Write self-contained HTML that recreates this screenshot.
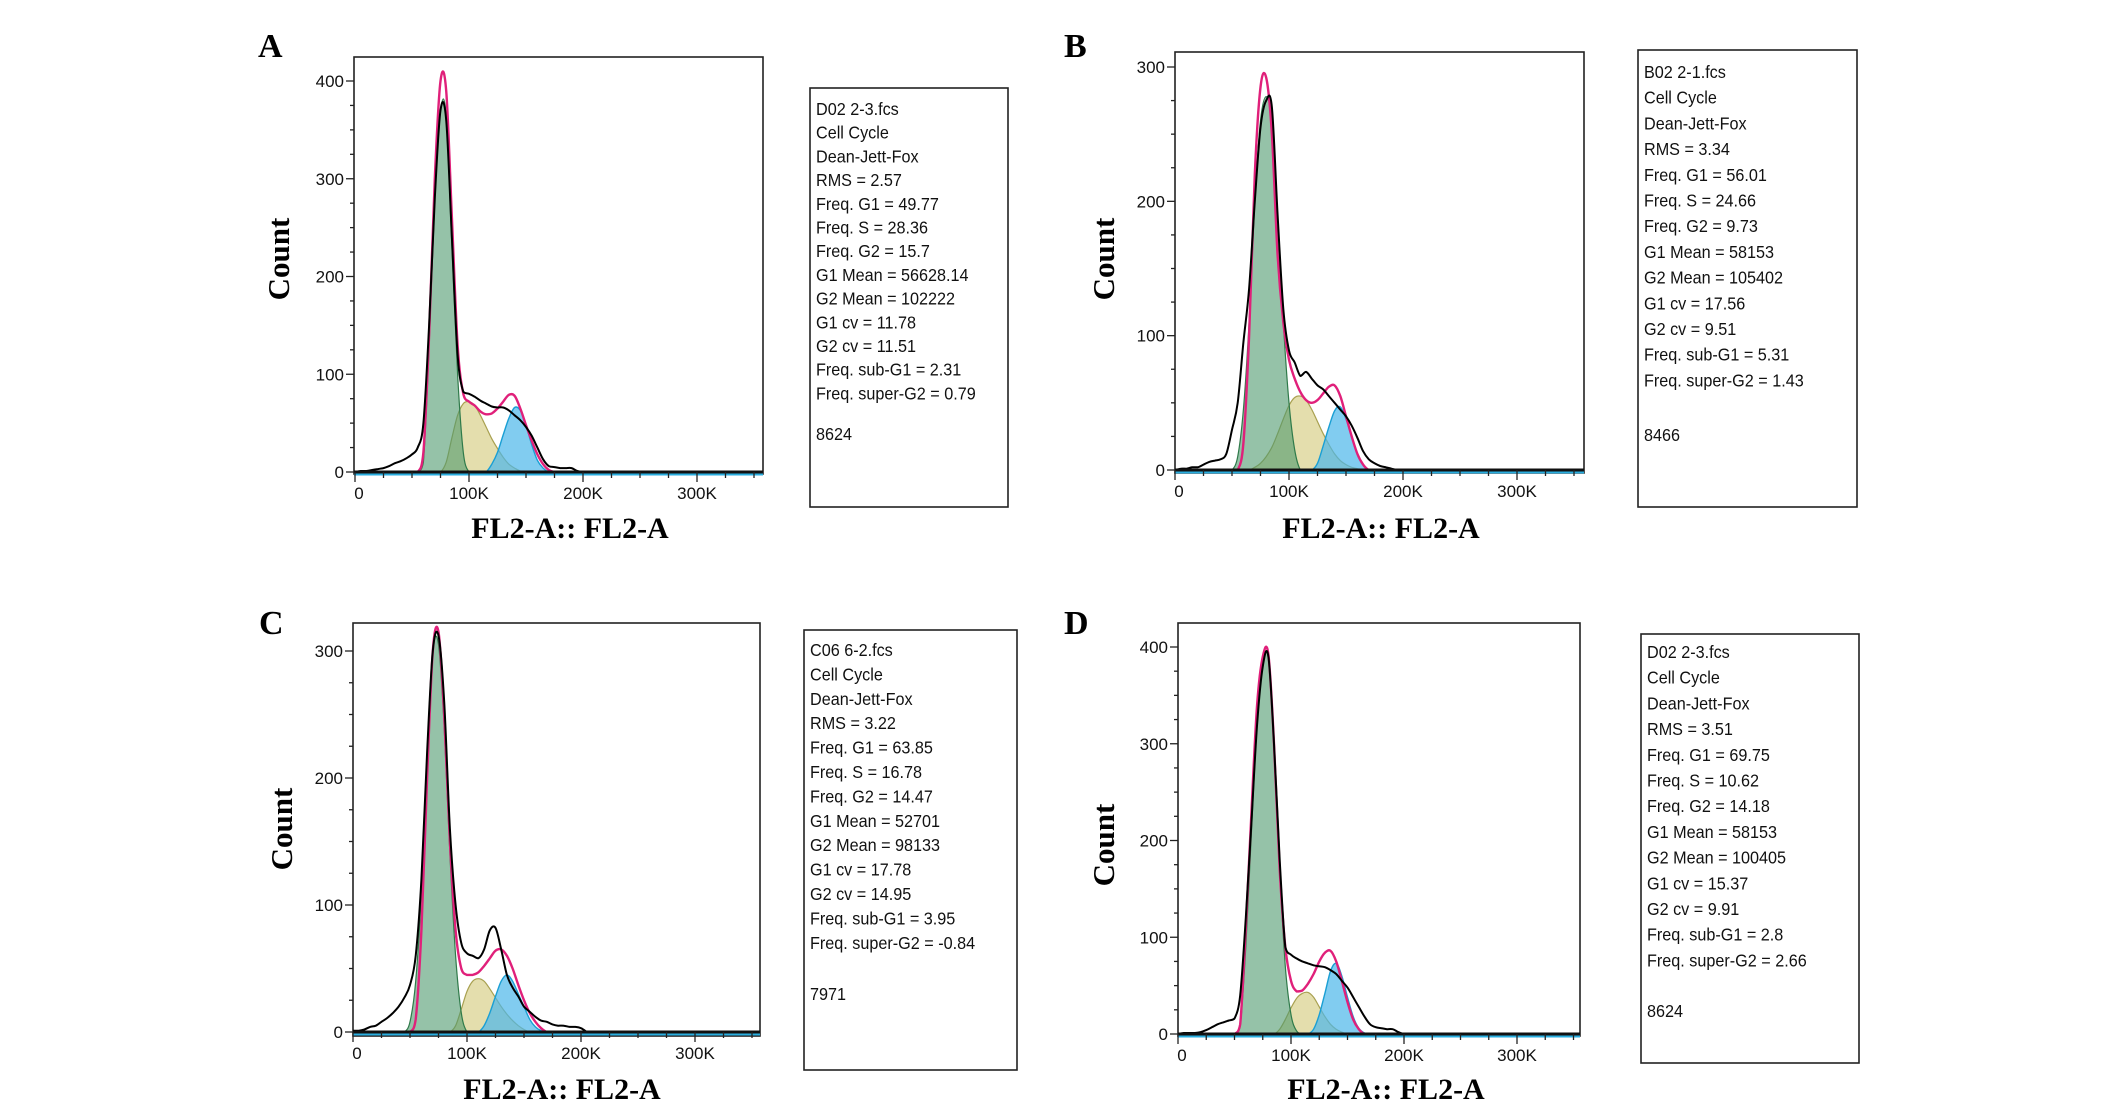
<!DOCTYPE html>
<html><head><meta charset="utf-8">
<style>
html,body{margin:0;padding:0;background:#fff;}
svg{display:block;}
.lab{font-family:"Liberation Serif",serif;font-weight:bold;}
.tk{font-family:"Liberation Sans",sans-serif;font-size:17px;fill:#111;}
.info{font-family:"Liberation Sans",sans-serif;font-size:18px;fill:#111;}
</style></head>
<body>
<svg id="fig" width="2126" height="1107" viewBox="0 0 2126 1107" xmlns="http://www.w3.org/2000/svg"></svg>
<script>
// ---- data (counts sampled every 5K on FL2-A axis) ----
const binsK = [0,5,10,15,20,25,30,35,40,45,50,55,60,65,70,75,80,85,90,95,100,105,110,115,120,125,130,135,140,145,150,155,160,165,170,175,180,185,190,195,200,205];
const panelNames = ["A","B","C","D"];
const yTickValsA = [0,100,200,300,400];
const yTickValsB = [0,100,200,300];
const yTickValsC = [0,100,200,300];
const yTickValsD = [0,100,200,300,400];
const xTickVals = [0,100,200,300];
const xTickLabels = ["0","100K","200K","300K"];

const histA  = [0,1,1,2,3,4,6,9,11,14,18,25,50,150,280,370,360,240,120,82,80,77,73,70,67,66,66,63,58,53,46,37,25,13,6,5,4,4,4,1,0,0];
const fitA   = [0,0,0,0,0,0,0,0,0,0,0,0,20,140,300,400,390,260,130,80,72,68,62,59,60,65,72,79,78,65,48,32,18,8,2,0,0,0,0,0,0,0];
const g1A    = [0,0,0,0,0,0,0,0,0,0,0,0,10,130,280,370,365,230,100,20,0,0,0,0,0,0,0,0,0,0,0,0,0,0,0,0,0,0,0,0,0,0];
const sA     = [0,0,0,0,0,0,0,0,0,0,0,0,0,0,0,0,10,35,58,70,72,68,58,46,34,24,15,8,4,1,0,0,0,0,0,0,0,0,0,0,0,0];
const g2A    = [0,0,0,0,0,0,0,0,0,0,0,0,0,0,0,0,0,0,0,0,0,0,0,0,8,20,38,55,66,63,48,28,12,4,0,0,0,0,0,0,0,0];

const histB  = [0,1,1,2,2,4,6,7,8,12,30,50,95,135,200,255,275,270,190,120,89,80,70,73,68,63,60,55,50,45,40,33,24,14,8,5,3,2,1,0,0,0];
const fitB   = [0,0,0,0,0,0,0,0,0,0,0,0,20,100,220,285,292,250,160,110,82,68,58,52,50,52,57,62,63,55,40,25,12,4,0,0,0,0,0,0,0,0];
const g1B    = [0,0,0,0,0,0,0,0,0,0,0,10,45,110,200,260,278,260,190,110,50,15,0,0,0,0,0,0,0,0,0,0,0,0,0,0,0,0,0,0,0,0];
const sB     = [0,0,0,0,0,0,0,0,0,0,0,0,0,0,2,5,10,17,27,38,48,54,55,52,45,36,27,19,12,7,4,2,1,0,0,0,0,0,0,0,0,0];
const g2B    = [0,0,0,0,0,0,0,0,0,0,0,0,0,0,0,0,0,0,0,0,0,0,0,0,0,5,18,32,44,47,38,25,12,4,0,0,0,0,0,0,0,0];

const histC  = [1,1,2,4,5,8,11,15,20,27,37,60,120,220,300,312,260,160,100,70,62,60,58,65,80,82,65,45,35,28,20,16,12,9,8,6,5,5,4,4,3,0];
const fitC   = [0,0,0,0,0,0,0,0,0,0,0,10,80,200,300,315,250,150,80,50,45,45,47,52,58,64,65,60,50,37,25,15,8,3,0,0,0,0,0,0,0,0];
const g1C    = [0,0,0,0,0,0,0,0,0,0,8,40,110,220,300,305,240,140,60,15,0,0,0,0,0,0,0,0,0,0,0,0,0,0,0,0,0,0,0,0,0,0];
const sC     = [0,0,0,0,0,0,0,0,0,0,0,0,0,0,0,0,0,0,5,18,32,40,42,40,34,27,20,14,9,5,2,0,0,0,0,0,0,0,0,0,0,0];
const g2C    = [0,0,0,0,0,0,0,0,0,0,0,0,0,0,0,0,0,0,0,0,0,0,0,5,15,28,40,45,40,30,20,10,4,1,0,0,0,0,0,0,0,0];

const histD  = [0,1,1,1,2,4,7,10,12,14,16,40,120,220,320,380,390,300,180,90,82,78,75,73,71,70,69,66,62,55,48,38,28,18,10,7,6,5,5,2,0,0];
const fitD   = [0,0,0,0,0,0,0,0,0,0,0,10,110,230,340,390,392,300,170,90,55,44,45,52,62,75,84,86,75,55,33,15,5,0,0,0,0,0,0,0,0,0];
const g1D    = [0,0,0,0,0,0,0,0,0,0,0,8,90,210,320,380,390,300,170,70,20,3,0,0,0,0,0,0,0,0,0,0,0,0,0,0,0,0,0,0,0,0];
const sD     = [0,0,0,0,0,0,0,0,0,0,0,0,0,0,0,0,0,0,5,15,27,37,42,43,38,28,18,10,5,2,0,0,0,0,0,0,0,0,0,0,0,0];
const g2D    = [0,0,0,0,0,0,0,0,0,0,0,0,0,0,0,0,0,0,0,0,0,0,0,0,5,20,42,65,73,60,38,18,6,1,0,0,0,0,0,0,0,0];

const infoA = ["D02 2-3.fcs","Cell Cycle","Dean-Jett-Fox","RMS  = 2.57","Freq. G1  = 49.77","Freq. S = 28.36","Freq. G2  = 15.7","G1 Mean  = 56628.14","G2 Mean  = 102222","G1 cv  = 11.78","G2 cv = 11.51","Freq. sub-G1  = 2.31","Freq. super-G2 = 0.79","8624"];
const infoB = ["B02 2-1.fcs","Cell Cycle","Dean-Jett-Fox","RMS  = 3.34","Freq. G1  = 56.01","Freq. S = 24.66","Freq. G2  = 9.73","G1 Mean  = 58153","G2 Mean  = 105402","G1 cv  = 17.56","G2 cv = 9.51","Freq. sub-G1  = 5.31","Freq. super-G2 = 1.43","8466"];
const infoC = ["C06 6-2.fcs","Cell Cycle","Dean-Jett-Fox","RMS  = 3.22","Freq. G1  = 63.85","Freq. S = 16.78","Freq. G2  = 14.47","G1 Mean  = 52701","G2 Mean  = 98133","G1 cv  = 17.78","G2 cv = 14.95","Freq. sub-G1  = 3.95","Freq. super-G2 = -0.84","7971"];
const infoD = ["D02 2-3.fcs","Cell Cycle","Dean-Jett-Fox","RMS  = 3.51","Freq. G1  = 69.75","Freq. S = 10.62","Freq. G2  = 14.18","G1 Mean  = 58153","G2 Mean  = 100405","G1 cv  = 15.37","G2 cv = 9.91","Freq. sub-G1  = 2.8","Freq. super-G2 = 2.66","8624"];

// ---- layout ----
const layouts = [
 {name:"A", box:[354,57,763,474], x0:355, y0:472, pxK:1.14, yMax:400, yTopPx:81, yt:yTickValsA, minor:25,
  hist:histA, fit:fitA, g1:g1A, s:sA, g2:g2A, info:infoA, ib:[810,88,1008,507], tx:816, ty0:115, dy:23.7, lastY:440,
  letter:[258,57], count:[279,259], xt:[570,538]},
 {name:"B", box:[1175,52,1584,473], x0:1175, y0:470, pxK:1.14, yMax:300, yTopPx:67, yt:yTickValsB, minor:25,
  hist:histB, fit:fitB, g1:g1B, s:sB, g2:g2B, info:infoB, ib:[1638,50,1857,507], tx:1644, ty0:78, dy:25.7, lastY:441,
  letter:[1064,57], count:[1104,259], xt:[1381,538]},
 {name:"C", box:[353,623,760,1036], x0:353, y0:1032, pxK:1.14, yMax:300, yTopPx:651, yt:yTickValsC, minor:25,
  hist:histC, fit:fitC, g1:g1C, s:sC, g2:g2C, info:infoC, ib:[804,630,1017,1070], tx:810, ty0:656, dy:24.4, lastY:1000,
  letter:[259,634], count:[282,829], xt:[562,1099]},
 {name:"D", box:[1178,623,1580,1036], x0:1178, y0:1034, pxK:1.13, yMax:400, yTopPx:647, yt:yTickValsD, minor:25,
  hist:histD, fit:fitD, g1:g1D, s:sD, g2:g2D, info:infoD, ib:[1641,634,1859,1063], tx:1647, ty0:658, dy:25.7, lastY:1017,
  letter:[1064,634], count:[1104,845], xt:[1386,1099]}
];

const NS="http://www.w3.org/2000/svg";
const svg=document.getElementById('fig');
function mk(tag,attrs,parent){const e=document.createElementNS(NS,tag);for(const k in attrs)e.setAttribute(k,attrs[k]);(parent||svg).appendChild(e);return e;}

function smoothPath(pts){
  let d="M"+pts[0][0].toFixed(1)+","+pts[0][1].toFixed(1);
  for(let i=0;i<pts.length-1;i++){
    const p0=pts[i-1]||pts[i],p1=pts[i],p2=pts[i+1],p3=pts[i+2]||p2;
    const ymax=Math.max(p1[1],p2[1]);
    const c1y=Math.min(p1[1]+(p2[1]-p0[1])/6, ymax);
    const c2y=Math.min(p2[1]-(p3[1]-p1[1])/6, ymax);
    d+=" C"+(p1[0]+(p2[0]-p0[0])/6).toFixed(1)+","+c1y.toFixed(1)+" "+(p2[0]-(p3[0]-p1[0])/6).toFixed(1)+","+c2y.toFixed(1)+" "+p2[0].toFixed(1)+","+p2[1].toFixed(1);
  }
  return d;
}

layouts.forEach(L=>{
  const g=mk('g',{});
  
  
  const pxC=(L.y0-L.yTopPx)/L.yMax;
  const X=k=>L.x0+k*L.pxK;
  const Y=c=>L.y0-c*pxC;
  const [bx1,by1,bx2,by2]=L.box;

  const lt=mk('text',{x:L.letter[0],y:L.letter[1],class:'lab','font-size':34,'text-anchor':'start'},g);
  lt.textContent=L.name;
  
  

  const fr=mk('rect',{x:bx1,y:by1,width:bx2-bx1,height:by2-by1,fill:'#fff',stroke:'#222','stroke-width':1.6},g);
  
  

  function series(arr,name,fill,stroke,op,sw,closed){
    const pts=binsK.map((k,i)=>[X(k),Y(arr[i])]);
    let d=smoothPath(pts);
    if(closed) d+=" L"+X(binsK[binsK.length-1])+","+L.y0+" L"+X(binsK[0])+","+L.y0+" Z";
    const p=mk('path',{d:d,fill:fill,'fill-opacity':op,stroke:stroke,'stroke-width':sw,'stroke-linejoin':'round'},g);
    
    
  }
  series(L.s,'s-phase-fit','#d8d08a','#a8a050',0.7,1.2,true);
  series(L.g1,'g1-peak-fit','#4f9a6e','#2f7a4a',0.6,1.2,true);
  series(L.g2,'g2-peak-fit','#4cb6ea','#1a9fd4',0.7,1.4,true);
  series(L.fit,'model-fit-line','none','#e0207a',1,2.4,false);
  series(L.hist,'histogram-line','none','#000',1,2,false);

  const bl=mk('line',{x1:bx1,y1:L.y0,x2:bx2,y2:L.y0,stroke:'#111','stroke-width':3},g);
  
  
  const cy=mk('line',{x1:bx1,y1:L.y0+2.5,x2:bx2,y2:L.y0+2.5,stroke:'#2aaee0','stroke-width':2},g);
  
  

  for(let c=0;c<=L.yMax+L.minor*0.9;c+=L.minor){
    const yy=Y(c); if(yy<by1) break;
    const major=L.yt.indexOf(c)>=0;
    const t=mk('line',{x1:bx1-(major?8:4),y1:yy,x2:bx1,y2:yy,stroke:'#222','stroke-width':1.3},g);
    
    
  }
  L.yt.forEach(v=>{
    const t=mk('text',{x:bx1-10,y:Y(v)+6,class:'tk','text-anchor':'end'},g);
    t.textContent=v;
    
    
  });
  for(let k=0;X(k)<=bx2;k+=25){
    const major=k%100===0;
    const t=mk('line',{x1:X(k),y1:L.y0,x2:X(k),y2:L.y0+(major?10:6),stroke:'#222','stroke-width':1.3},g);
    
    
  }
  xTickVals.forEach((v,i)=>{
    const t=mk('text',{x:X(v)+(i===0?4:0),y:L.y0+27,class:'tk','text-anchor':'middle'},g);
    t.textContent=xTickLabels[i];
    
    
  });
  const ct=mk('text',{x:0,y:0,class:'lab','font-size':31,'text-anchor':'middle',transform:`translate(${L.count[0]+10},${L.count[1]}) rotate(-90)`},g);
  ct.textContent='Count';
  
  
  const xt=mk('text',{x:L.xt[0],y:L.xt[1],class:'lab','font-size':30,'text-anchor':'middle'},g);
  xt.textContent='FL2-A:: FL2-A';
  
  

  const [ix1,iy1,ix2,iy2]=L.ib;
  const ib=mk('rect',{x:ix1,y:iy1,width:ix2-ix1,height:iy2-iy1,fill:'#fff',stroke:'#222','stroke-width':1.6},g);
  
  
  L.info.forEach((s,i)=>{
    const yy = i===L.info.length-1 ? L.lastY : L.ty0+i*L.dy;
    const t=mk('text',{x:0,y:0,class:'info',transform:`translate(${L.tx},${yy}) scale(0.9,1)`},g);
    t.textContent=s;
    
    
  });
});
</script>
</body></html>
